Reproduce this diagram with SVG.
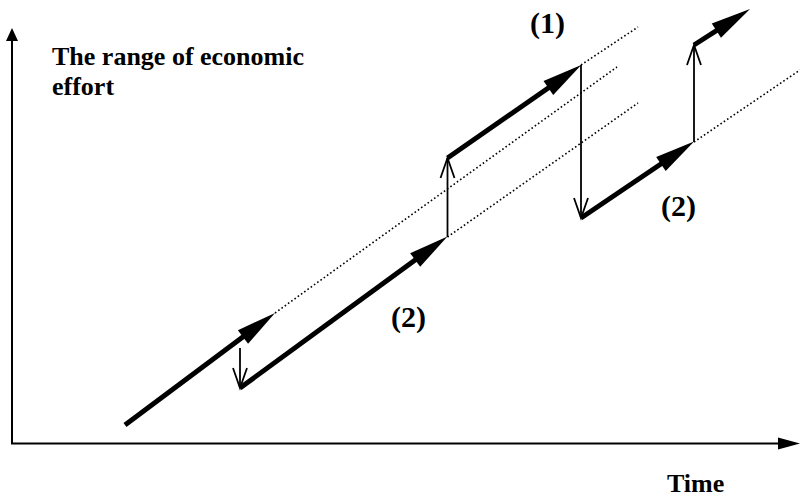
<svg xmlns="http://www.w3.org/2000/svg" width="800" height="499" viewBox="0 0 800 499">
<defs>
<style>
.txt{font-family:"Liberation Serif","Times New Roman",serif;font-weight:bold;fill:#000}
.h{font-size:26px}
.lb{font-size:30px}
.axis{stroke:#000;stroke-width:2;fill:none}
.thick{stroke:#000;stroke-width:5;fill:none;stroke-linejoin:miter}
.thin{stroke:#000;stroke-width:1.8;fill:none}
.dot{stroke:#000;stroke-width:1.6;fill:none;stroke-dasharray:1.6 2.4}
</style>
<marker id="big" markerUnits="userSpaceOnUse" markerWidth="42" markerHeight="18" refX="20" refY="8.5" orient="auto" overflow="visible">
<path d="M0,0 L40,8.5 L0,17 Z" fill="#000"/>
</marker>
<marker id="vee" markerUnits="userSpaceOnUse" markerWidth="22" markerHeight="16" refX="20" refY="7" orient="auto" overflow="visible">
<path d="M0,0 L20,7 L0,14" fill="none" stroke="#000" stroke-width="1.8"/>
</marker>
</defs>
<rect width="800" height="499" fill="#fff"/>
<g id="axes">
<path class="axis" d="M12,41 L12,443.5 L779,443.5"/>
<path d="M12,28 L6,41 L18,41 Z" fill="#000"/>
<path d="M800,443.5 L778,437.5 L778,449.5 Z" fill="#000"/>
</g>
<g id="connectors">
<path class="dot" d="M275,313 L617,67"/>
<path class="dot" d="M447.5,237 L638,103"/>
<path class="dot" d="M581,65 L638,27"/>
<path class="dot" d="M694,142 L800,70"/>
<path class="thin" marker-end="url(#vee)" d="M240,348 L240,388"/>
<path class="thin" marker-end="url(#vee)" d="M447.5,237 L447.5,158"/>
<path class="thin" marker-end="url(#vee)" d="M581,65 L581,218"/>
<path class="thin" marker-end="url(#vee)" d="M694,142 L694,45"/>
<path class="thick" marker-end="url(#big)" d="M125,425 L259,325"/>
<path class="thick" marker-end="url(#big)" d="M240,388 L431.3,248.2"/>
<path class="thick" marker-end="url(#big)" d="M447.5,158 L564.8,76.5"/>
<path class="thick" marker-end="url(#big)" d="M581,218 L677.5,152.8"/>
<path class="thick" marker-end="url(#big)" d="M694,45 L733.2,19.8"/>
</g>
<g id="label-y"><text class="txt h" x="52" y="65">The range of economic</text><text class="txt h" x="52" y="95">effort</text></g>
<g id="label-x"><text class="txt h" x="667" y="492">Time</text></g>
<g id="label-1"><text class="txt lb" x="530" y="33">(1)</text></g>
<g id="label-2a"><text class="txt lb" x="391" y="327">(2)</text></g>
<g id="label-2b"><text class="txt lb" x="661" y="216">(2)</text></g>
</svg>
